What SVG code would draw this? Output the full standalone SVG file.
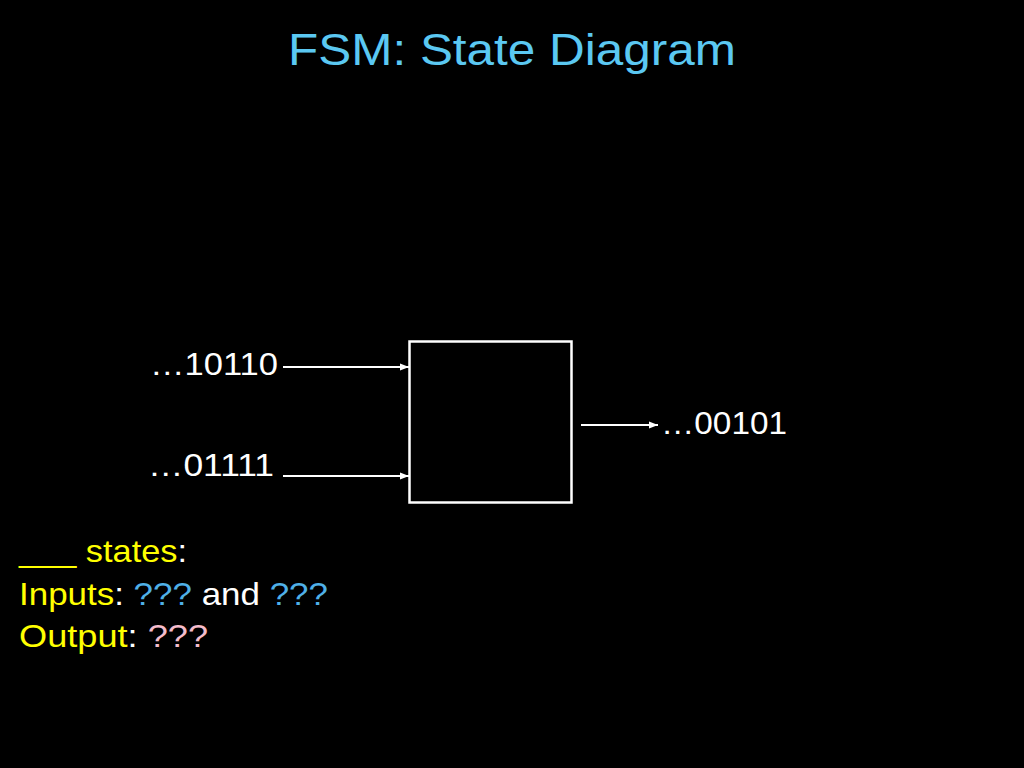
<svg xmlns="http://www.w3.org/2000/svg" width="1024" height="768" viewBox="0 0 1024 768">
<defs>
<style>
text{font-family:"Liberation Sans","Open Sans",sans-serif;}
.t{fill:#5BC8F2;font-size:44px;}
.w{fill:#FFFFFF;font-size:32px;}
.y{fill:#FFFF00;font-size:32px;}
.c{fill:#FFFFFF;}
.b{fill:#4FB0E8;}
.p{fill:#F4BCCB;}
.conn{stroke:#FFFFFF;stroke-width:2;fill:none;marker-end:url(#ah);}
</style>
<marker id="ah" viewBox="0 0 10 10" refX="10" refY="5" markerWidth="4.5" markerHeight="4.5" orient="auto" markerUnits="strokeWidth">
<path d="M0,1 L10,5 L0,9 z" fill="#FFFFFF"/>
</marker>
</defs>
<rect x="0" y="0" width="1024" height="768" fill="#000000"/>
<text class="t" x="512" y="65" text-anchor="middle" textLength="448" lengthAdjust="spacingAndGlyphs">FSM: State Diagram</text>
<g id="fsm">
<rect x="409.5" y="341.5" width="162" height="161" fill="none" stroke="#FFFFFF" stroke-width="2.5"/>
</g>
<g id="in1"><text class="w" x="150" y="375" textLength="128" lengthAdjust="spacingAndGlyphs">…10110</text></g>
<g id="in2"><text class="w" x="148" y="476" textLength="126" lengthAdjust="spacingAndGlyphs">…01111</text></g>
<g id="out"><text class="w" x="661" y="434" textLength="126" lengthAdjust="spacingAndGlyphs">…00101</text></g>
<g id="connectors">
<line class="conn" x1="283" y1="367" x2="409" y2="367"/>
<line class="conn" x1="283" y1="476" x2="409" y2="476"/>
<line class="conn" x1="581" y1="425" x2="658" y2="425"/>
</g>
<g id="notes">
<text class="y" x="19" y="562" textLength="168" lengthAdjust="spacingAndGlyphs">___ states<tspan class="c">:</tspan></text>
<text class="y" x="19" y="605" textLength="309" lengthAdjust="spacingAndGlyphs">Inputs<tspan class="c">: </tspan><tspan class="b">???</tspan><tspan class="c"> and </tspan><tspan class="b">???</tspan></text>
<text class="y" x="19" y="647" textLength="189" lengthAdjust="spacingAndGlyphs">Output<tspan class="c">: </tspan><tspan class="p">???</tspan></text>
</g>
</svg>
